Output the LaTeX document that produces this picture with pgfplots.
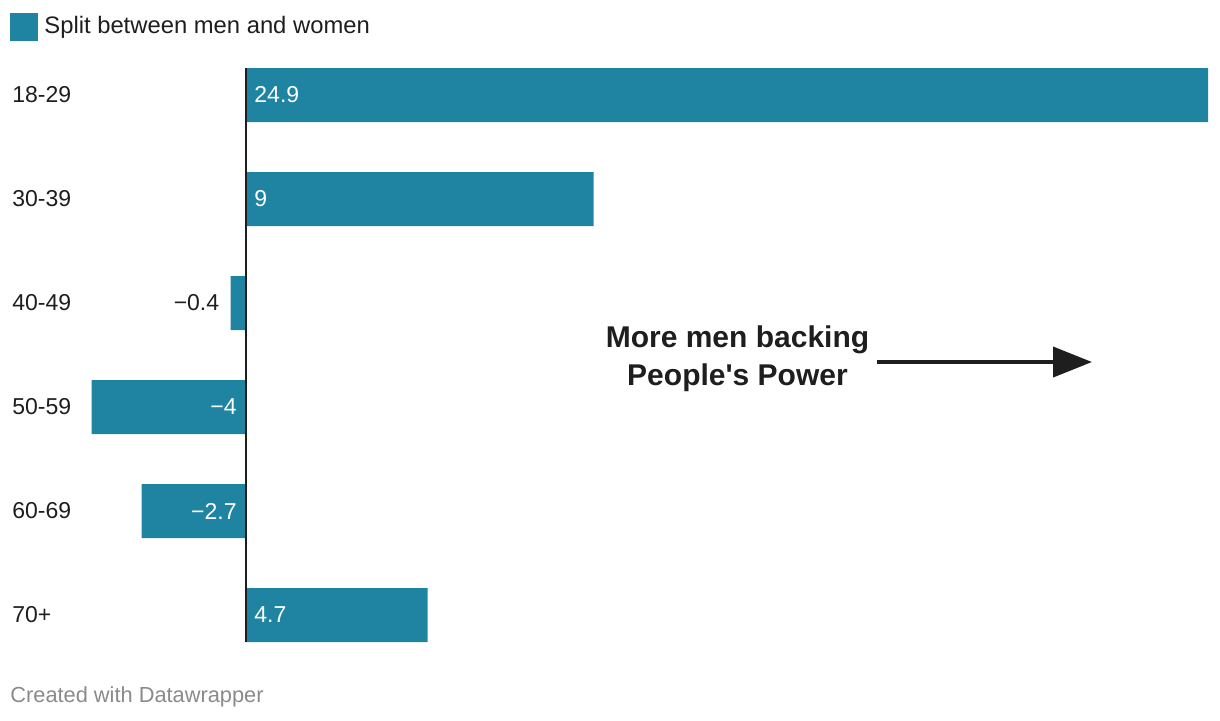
\documentclass[border=0pt]{standalone}
\usepackage{fontspec}
\setmainfont{Liberation Sans}
\usepackage{pgfplots}
\pgfplotsset{compat=1.18}
\usetikzlibrary{arrows.meta}
\definecolor{barc}{HTML}{1F83A2}
\definecolor{txt}{HTML}{1E1E1E}
\definecolor{foot}{HTML}{8A8A8A}
\begin{document}
\begin{tikzpicture}
\path[use as bounding box] (0,0) rectangle (610pt,-360pt);
% legend
\fill[barc] (5pt,-6.5pt) rectangle (19pt,-20.5pt);
\node[anchor=base west, inner sep=0pt, text=txt, font=\fontsize{11.9}{14}\selectfont] at (22pt,-16.75pt) {Split between men and women};
\begin{axis}[
  at={(45.75pt,-21.5pt)}, anchor=north west,
  scale only axis, width=558.25pt, height=312pt,
  xmin=-4, xmax=24.9, ymin=-0.5, ymax=5.5,
  y dir=reverse, clip=false,
  axis line style={draw=none},
  major tick length=0pt,
  xtick=\empty,
  ytick={0,1,2,3,4,5},
  yticklabels={18-29,30-39,40-49,50-59,60-69,70+},
  yticklabel style={anchor=west, inner sep=0pt, xshift=-39.75pt, text=txt, font=\fontsize{11.5}{14}\selectfont},
  xbar, bar width=27pt,
]
\addplot[fill=barc, draw=none] coordinates {(24.9,0) (9,1) (-0.4,2) (-4,3) (-2.7,4) (4.7,5)};
\draw[line width=1pt, color=txt] (axis cs:0,-0.26) -- (axis cs:0,5.26);
\begin{scope}[every node/.style={inner sep=0pt, font=\fontsize{11.5}{14}\selectfont}]
\node[anchor=west, text=white, xshift=4pt] at (axis cs:0,0) {24.9};
\node[anchor=west, text=white, xshift=4pt] at (axis cs:0,1) {9};
\node[anchor=east, text=txt, xshift=-5.5pt] at (axis cs:-0.4,2) {−0.4};
\node[anchor=east, text=white, xshift=-4.5pt] at (axis cs:0,3) {−4};
\node[anchor=east, text=white, xshift=-4.5pt] at (axis cs:0,4) {−2.7};
\node[anchor=west, text=white, xshift=4pt] at (axis cs:0,5) {4.7};
\end{scope}
\end{axis}
% annotation
\node[anchor=base, inner sep=0pt, text=txt, font=\bfseries\fontsize{15}{19}\selectfont] at (368.75pt,-173.5pt) {More men backing};
\node[anchor=base, inner sep=0pt, text=txt, font=\bfseries\fontsize{15}{19}\selectfont] at (368.75pt,-192.5pt) {People\textquotesingle s Power};
\draw[line width=2pt, color=txt, -{Triangle[length=19.5pt,width=15pt]}] (438.5pt,-181pt) -- (546pt,-181pt);
% footer
\node[anchor=base west, inner sep=0pt, text=foot, font=\fontsize{10.9}{13}\selectfont] at (5pt,-351pt) {Created with Datawrapper};
\end{tikzpicture}
\end{document}
